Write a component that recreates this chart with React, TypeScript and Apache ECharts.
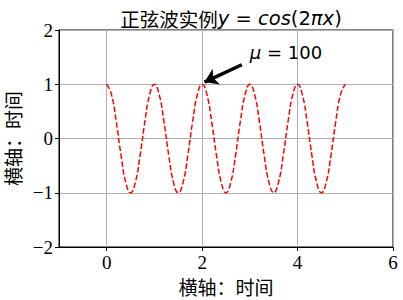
import React, { useEffect, useRef } from "react";
import * as echarts from "echarts";

const xs = [
  0, 0.1, 0.2, 0.3, 0.4, 0.5, 0.6, 0.7, 0.8, 0.9,
  1, 1.1, 1.2, 1.3, 1.4, 1.5, 1.6, 1.7, 1.8, 1.9,
  2, 2.1, 2.2, 2.3, 2.4, 2.5, 2.6, 2.7, 2.8, 2.9,
  3, 3.1, 3.2, 3.3, 3.4, 3.5, 3.6, 3.7, 3.8, 3.9,
  4, 4.1, 4.2, 4.3, 4.4, 4.5, 4.6, 4.7, 4.8, 4.9, 5,
];
const ys = [
  1, 0.809, 0.309, -0.309, -0.809, -1, -0.809, -0.309, 0.309, 0.809,
  1, 0.809, 0.309, -0.309, -0.809, -1, -0.809, -0.309, 0.309, 0.809,
  1, 0.809, 0.309, -0.309, -0.809, -1, -0.809, -0.309, 0.309, 0.809,
  1, 0.809, 0.309, -0.309, -0.809, -1, -0.809, -0.309, 0.309, 0.809,
  1, 0.809, 0.309, -0.309, -0.809, -1, -0.809, -0.309, 0.309, 0.809, 1,
];
const xTicks = [0, 2, 4, 6];
const annotText = [3, 1.5];
const arrowStart = [2.83, 1.36];
const arrowEnd = [2.05, 1.04];

const CJK = "'Noto Sans CJK SC', 'DejaVu Sans', sans-serif";
const MATH = "'DejaVu Sans', sans-serif";
const SERIF = "'Liberation Serif', 'DejaVu Serif', serif";

export default function App() {
  const ref = useRef<HTMLDivElement>(null);
  useEffect(() => {
    if (!ref.current) return;
    const chart = echarts.init(ref.current, undefined, { renderer: "svg" });
    const data = xs.map((x, i) => [x, ys[i]]);
    chart.setOption({
      animation: false,
      title: {
        text: "{c|正弦波实例}{i|y}{n| = }{i|cos}{n|(2}{i|πx}{n|)}",
        left: 226,
        top: 3,
        textAlign: "center",
        textStyle: {
          fontWeight: "normal",
          rich: {
            c: { fontFamily: CJK, fontSize: 19.5, fontWeight: "normal", color: "#000" },
            i: { fontFamily: MATH, fontSize: 19.5, fontWeight: "normal", fontStyle: "italic", color: "#000" },
            n: { fontFamily: MATH, fontSize: 19.5, fontWeight: "normal", color: "#000" },
          },
        },
      },
      grid: {
        left: 59,
        right: 10,
        top: 30,
        bottom: 53,
        containLabel: false,
        outerBoundsMode: "none",
        show: true,
        borderColor: "#000",
        borderWidth: 1,
        backgroundColor: "transparent",
      },
      xAxis: {
        type: "value",
        min: -1,
        max: 6,
        name: "横轴：时间",
        nameLocation: "middle",
        nameGap: 30,
        nameTextStyle: { fontFamily: CJK, fontSize: 19, color: "#000" },
        axisLine: { show: true, onZero: false, lineStyle: { color: "#000" } },
        axisTick: { show: true, length: 4, customValues: xTicks, lineStyle: { color: "#000" } },
        axisLabel: {
          customValues: xTicks,
          margin: 6,
          fontFamily: SERIF,
          fontSize: 19,
          color: "#000",
        },
        splitLine: { show: true, lineStyle: { color: "#b0b0b0", width: 1 } },
      },
      yAxis: {
        type: "value",
        min: -2,
        max: 2,
        interval: 1,
        name: "横轴：时间",
        nameLocation: "middle",
        nameGap: 32,
        nameRotate: 90,
        nameTextStyle: { fontFamily: CJK, fontSize: 19, color: "#000" },
        axisLine: { show: true, onZero: false, lineStyle: { color: "#000" } },
        axisTick: { show: true, length: 4, lineStyle: { color: "#000" } },
        axisLabel: {
          margin: 6,
          fontFamily: SERIF,
          fontSize: 19,
          color: "#000",
          formatter: (v: number) => String(v).replace("-", "\u2212"),
        },
        splitLine: { show: true, lineStyle: { color: "#b0b0b0", width: 1 } },
      },
      series: [
        {
          type: "line",
          data,
          showSymbol: false,
          smooth: true,
          lineStyle: { color: "#ff0000", width: 1.5, type: [5.5, 2.4] },
          itemStyle: { color: "#ff0000" },
          markLine: {
            silent: true,
            symbol: ["none", "arrow"],
            symbolSize: [13, 13],
            label: { show: false },
            lineStyle: { color: "#000", width: 3.5, type: "solid" },
            data: [[{ coord: arrowStart }, { coord: arrowEnd }]],
          },
          markPoint: {
            silent: true,
            symbol: "circle",
            symbolSize: 0,
            data: [
              {
                coord: annotText,
                label: {
                  show: true,
                  position: [0, 0],
                  align: "left",
                  verticalAlign: "bottom",
                  offset: [0, 4],
                  formatter: "{i|μ}{n| = 100}",
                  rich: {
                    i: { fontFamily: MATH, fontSize: 18, fontStyle: "italic", color: "#000" },
                    n: { fontFamily: MATH, fontSize: 18, color: "#000" },
                  },
                },
              },
            ],
          },
        },
      ],
    });
    return () => chart.dispose();
  }, []);
  return <div ref={ref} style={{ width: 403, height: 300, position: "absolute", left: 0, top: 0 }} />;
}
